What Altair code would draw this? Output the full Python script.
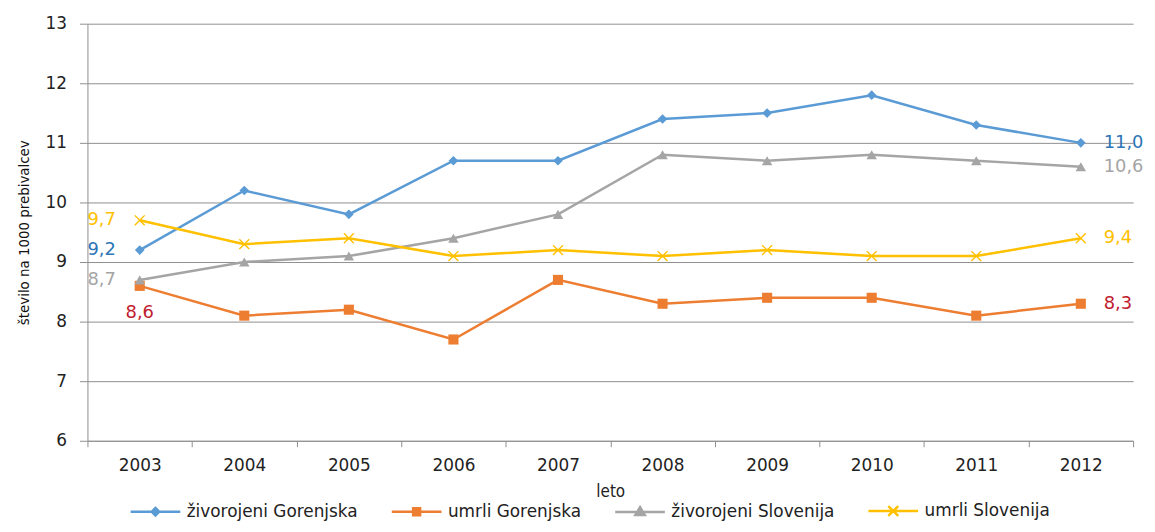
import altair as alt
import pandas as pd

years = [2003, 2004, 2005, 2006, 2007, 2008, 2009, 2010, 2011, 2012]
series = ["živorojeni Gorenjska", "umrli Gorenjska", "živorojeni Slovenija", "umrli Slovenija"]
zivorojeni_gorenjska = [9.2, 10.2, 9.8, 10.7, 10.7, 11.4, 11.5, 11.8, 11.3, 11.0]
umrli_gorenjska = [8.6, 8.1, 8.2, 7.7, 8.7, 8.3, 8.4, 8.4, 8.1, 8.3]
zivorojeni_slovenija = [8.7, 9.0, 9.1, 9.4, 9.8, 10.8, 10.7, 10.8, 10.7, 10.6]
umrli_slovenija = [9.7, 9.3, 9.4, 9.1, 9.2, 9.1, 9.2, 9.1, 9.1, 9.4]
y_ticks = [6, 7, 8, 9, 10, 11, 12, 13]

line_colors = ["#5B9BD5", "#ED7D31", "#A5A5A5", "#FFC000"]
label_colors = ["#2E75B6", "#C0202E", "#A5A5A5", "#FFC000"]
x_path = "M-1,-0.82L-0.82,-1L0,-0.18L0.82,-1L1,-0.82L0.18,0L1,0.82L0.82,1L0,0.18L-0.82,1L-1,0.82L-0.18,0Z"
shapes = ["diamond", "square", "triangle-up", x_path]
sizes = [95, 120, 140, 130]
# legend symbols: a line segment with the series marker in its middle
legend_shapes = [
    "M-1,0H1M0,-0.15L0.15,0L0,0.15L-0.15,0Z",
    "M-1,0H1M-0.14,-0.14H0.14V0.14H-0.14Z",
    "M-1,0H1M0,-0.19L0.19,0.13L-0.19,0.13Z",
    "M-1,0H1M-0.2,-0.2L0.2,0.2M-0.2,0.2L0.2,-0.2",
]

rows = []
for name, vals in zip(series, [zivorojeni_gorenjska, umrli_gorenjska, zivorojeni_slovenija, umrli_slovenija]):
    for i, (yr, v) in enumerate(zip(years, vals)):
        rows.append({
            "leto": str(yr),
            "serija": name,
            "vrednost": v,
            "oznaka": f"{v:.1f}".replace(".", ","),
            "prva": i == 0,
            "zadnja": i == len(years) - 1,
        })
df = pd.DataFrame(rows)

GRID = "#8F8F8F"
AX_FONT = "DejaVu Sans"
NARROW = "DejaVu Sans Condensed"

x_enc = alt.X(
    "leto:O",
    bandPosition=0.5,
    scale=alt.Scale(type="band", paddingInner=0, paddingOuter=0),
    axis=alt.Axis(
        title="leto", labelAngle=0, tickBand="extent", ticks=True, tickSize=6,
        tickColor=GRID, domainColor=GRID, grid=False,
        labelFont=AX_FONT, labelFontSize=17, labelColor="#222222", labelPadding=11,
        titleFont=NARROW, titleFontSize=17, titleFontWeight="normal", titleColor="#222222",
        titlePadding=10,
    ),
)
y_enc = alt.Y(
    "vrednost:Q",
    scale=alt.Scale(domain=[6, 13], nice=False, zero=False),
    axis=alt.Axis(
        values=y_ticks, title="število na 1000 prebivalcev", format="d",
        grid=True, gridColor=GRID, gridWidth=1, tickColor=GRID, tickSize=8,
        domainColor=GRID, labelFont=AX_FONT, labelFontSize=17, labelColor="#222222",
        labelPadding=13, titleFont=NARROW, titleFontSize=15, titleFontWeight="normal",
        titleColor="#111111", titlePadding=14,
    ),
)

base = alt.Chart(df)

lines = base.mark_line(strokeWidth=2.5).encode(
    x=x_enc, y=y_enc,
    stroke=alt.Stroke("serija:N", sort=series, scale=alt.Scale(domain=series, range=line_colors), legend=None),
)

points = base.mark_point(filled=True, opacity=1).encode(
    x=x_enc, y=y_enc,
    color=alt.Color("serija:N", sort=series, scale=alt.Scale(domain=series, range=line_colors), legend=None),
    shape=alt.Shape("serija:N", sort=series, scale=alt.Scale(domain=series, range=shapes), legend=None),
    size=alt.Size("serija:N", sort=series, scale=alt.Scale(domain=series, range=sizes), legend=None),
)

leg = alt.Legend(
    title=None, orient="none", direction="horizontal", legendX=42, legendY=464,
    symbolSize=2500, symbolStrokeWidth=2.5, symbolOpacity=1,
    labelFont=AX_FONT, labelFontSize=17, labelColor="#222222", labelOffset=5,
    columnPadding=28, padding=0, labelLimit=400,
)

legend_layer = base.transform_filter("false").mark_point(filled=True, opacity=1).encode(
    color=alt.Color("serija:N", sort=series, scale=alt.Scale(domain=series, range=line_colors), legend=leg),
    stroke=alt.Stroke("serija:N", sort=series, scale=alt.Scale(domain=series, range=line_colors), legend=leg),
    shape=alt.Shape("serija:N", sort=series, scale=alt.Scale(domain=series, range=legend_shapes), legend=leg),
)

lbl_fill = alt.Fill("serija:N", scale=alt.Scale(domain=series, range=label_colors), legend=None)

left_labels = base.transform_filter(
    "datum.prva && datum.serija != 'umrli Gorenjska'"
).mark_text(align="right", baseline="middle", dx=-24, font=AX_FONT, fontSize=18).encode(
    x=x_enc, y=y_enc, text="oznaka:N", fill=lbl_fill
)
below_labels = base.transform_filter(
    "datum.prva && datum.serija == 'umrli Gorenjska'"
).mark_text(align="center", baseline="middle", dy=27, font=AX_FONT, fontSize=18).encode(
    x=x_enc, y=y_enc, text="oznaka:N", fill=lbl_fill
)
right_labels = base.transform_filter("datum.zadnja").mark_text(
    align="left", baseline="middle", dx=23, font=AX_FONT, fontSize=18
).encode(x=x_enc, y=y_enc, text="oznaka:N", fill=lbl_fill)

chart = alt.layer(
    lines, points, left_labels, below_labels, right_labels, legend_layer
).resolve_scale(
    color="independent", stroke="independent", shape="independent"
).properties(
    width=1053, height=420,
    autosize=alt.AutoSizeParams(type="none"),
    padding={"left": 80, "top": 14, "right": 14, "bottom": 82},
    background="white",
).configure_view(stroke=None, fill="#EDF5F9")

chart.save("out.html", embed_options={"renderer": "svg", "actions": False})
